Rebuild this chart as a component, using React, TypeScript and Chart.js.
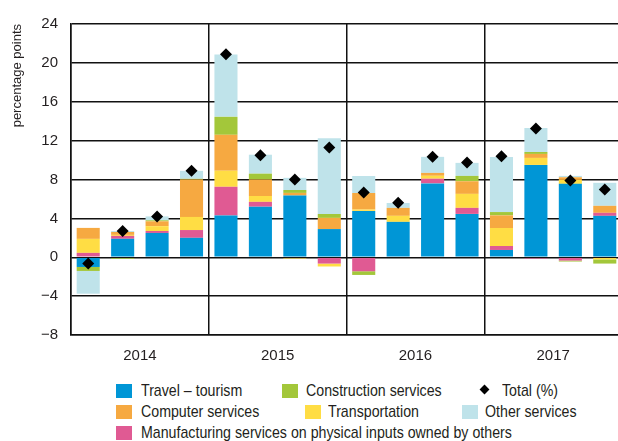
import React, { useEffect, useRef } from "react";
import { Chart, registerables } from "chart.js";

Chart.register(...registerables);

const quarters = [
  "2014Q1", "2014Q2", "2014Q3", "2014Q4",
  "2015Q1", "2015Q2", "2015Q3", "2015Q4",
  "2016Q1", "2016Q2", "2016Q3", "2016Q4",
  "2017Q1", "2017Q2", "2017Q3", "2017Q4",
];
const years = ["2014", "2015", "2016", "2017"];
const yTicks = [-8, -4, 0, 4, 8, 12, 16, 20, 24];

const travel = [-1.0, 1.9, 2.5, 2.0, 4.3, 5.2, 6.35, 2.9, 4.77, 3.64, 7.6, 4.46, 0.75, 9.5, 7.55, 4.26];
const manufacturing = [0.45, 0.3, 0.2, 0.8, 2.95, 0.5, 0, -0.65, -1.44, 0, 0.48, 0.62, 0.41, -0.13, -0.34, 0.31];
const transportation = [1.44, 0.1, 0.5, 1.35, 1.65, 0.6, -0.13, -0.3, 0.14, 0.62, 0.3, 1.44, 1.85, 0.72, 0.41, -0.22];
const computer = [1.13, 0.3, 0.5, 3.85, 3.7, 1.7, 0.27, 1.15, 1.7, 0.82, 0.3, 1.3, 1.3, 0.41, 0.27, 0.72];
const construction = [-0.41, -0.15, 0.1, 0.07, 1.85, 0.6, 0.3, 0.4, -0.38, 0, 0, 0.55, 0.34, 0.2, -0.1, -0.43];
const other = [-2.34, 0.1, 0.4, 0.82, 6.4, 1.95, 1.25, 7.8, 1.75, 0.5, 1.65, 1.34, 5.66, 2.47, 0.14, 2.37];
const total = [-0.65, 2.7, 4.2, 8.9, 20.9, 10.5, 8.0, 11.3, 6.66, 5.6, 10.33, 9.75, 10.4, 13.25, 7.9, 6.97];

const C_TRAVEL = "#0096d6";
const C_MANUF = "#e05a93";
const C_TRANSP = "#ffdd44";
const C_COMP = "#f6a941";
const C_CONSTR = "#a3c73a";
const C_OTHER = "#bfe3ea";
const TEXT = "#231f20";
const LINE = "#111111";
const FONT = "'Liberation Sans', Arial, sans-serif";

function fmt(v: number) {
  return v < 0 ? "\u2212" + Math.abs(v) : String(v);
}

const Swatch = ({ left, top, color }: { left: number; top: number; color: string }) => (
  <div style={{ position: "absolute", left, top, width: 16, height: 14, background: color }} />
);
const Label = ({ left, top, text }: { left: number; top: number; text: string }) => (
  <div
    style={{
      position: "absolute",
      left,
      top,
      font: `17px ${FONT}`,
      lineHeight: "20px",
      color: TEXT,
      whiteSpace: "nowrap",
      transform: "scaleX(0.835)",
      transformOrigin: "left center",
    }}
  >
    {text}
  </div>
);

export default function App() {
  const ref = useRef<HTMLCanvasElement | null>(null);

  useEffect(() => {
    if (!ref.current) return;
    const mk = (label: string, data: number[], color: string) => ({
      type: "bar" as const,
      label,
      data,
      backgroundColor: color,
      borderWidth: 0,
      stack: "s",
      order: 1,
      barPercentage: 0.67,
      categoryPercentage: 1,
    });
    const chart = new Chart(ref.current, {
      type: "bar",
      data: {
        labels: quarters,
        datasets: [
          mk("Travel \u2013 tourism", travel, C_TRAVEL),
          mk("Manufacturing services on physical inputs owned by others", manufacturing, C_MANUF),
          mk("Transportation", transportation, C_TRANSP),
          mk("Computer services", computer, C_COMP),
          mk("Construction services", construction, C_CONSTR),
          mk("Other services", other, C_OTHER),
          {
            type: "line" as const,
            label: "Total (%)",
            data: total,
            showLine: false,
            stack: "total",
            order: 0,
            pointStyle: "rectRot",
            pointRadius: 6,
            pointBackgroundColor: "#000",
            pointBorderColor: "#000",
            pointBorderWidth: 0,
          } as any,
        ],
      },
      options: {
        animation: false,
        responsive: false,
        maintainAspectRatio: false,
        layout: { padding: { top: 24, right: 18, left: 0, bottom: 0 } },
        plugins: { legend: { display: false }, tooltip: { enabled: false } },
        scales: {
          x: {
            type: "category",
            stacked: true,
            offset: true,
            weight: 0,
            grid: {
              offset: true,
              drawTicks: false,
              lineWidth: 1.5,
              color: (ctx: any) => (ctx.index % 4 === 0 ? LINE : "rgba(0,0,0,0)"),
            },
            border: { display: true, color: LINE, width: 1.5 },
            ticks: { display: false },
            afterFit: (s: any) => {
              s.height = 0;
            },
          },
          x2: {
            type: "category",
            labels: years,
            position: "bottom",
            offset: true,
            weight: 1,
            grid: { display: false, drawTicks: false },
            border: { display: false },
            ticks: { color: TEXT, font: { family: FONT, size: 15 }, padding: 12 },
            afterFit: (s: any) => {
              s.height = 35;
            },
          },
          y: {
            stacked: true,
            min: -8,
            max: 24,
            afterBuildTicks: (s: any) => {
              s.ticks = yTicks.map((v) => ({ value: v }));
            },
            grid: { drawTicks: false, lineWidth: 1.5, color: LINE },
            border: { display: true, color: LINE, width: 1.5 },
            ticks: {
              color: TEXT,
              font: { family: FONT, size: 15 },
              padding: 13,
              callback: (v: any) => fmt(Number(v)),
            },
            title: {
              display: true,
              text: "percentage points",
              align: "end",
              color: TEXT,
              font: { family: FONT, size: 13 },
              padding: { top: 10, bottom: 0 },
            },
            afterFit: (s: any) => {
              s.width = 71;
            },
          },
        },
      },
    });
    return () => chart.destroy();
  }, []);

  return (
    <div
      style={{
        position: "fixed",
        left: 0,
        top: 0,
        width: 618,
        height: 441,
        overflow: "hidden",
        background: "#fff",
      }}
    >
      <canvas ref={ref} width={640} height={370} style={{ position: "absolute", left: 0, top: 0, width: 640, height: 370 }} />
      <Swatch left={116} top={384} color={C_TRAVEL} />
      <Label left={141} top={381} text={"Travel \u2013 tourism"} />
      <Swatch left={282} top={384} color={C_CONSTR} />
      <Label left={306} top={381} text="Construction services" />
      <div
        style={{
          position: "absolute",
          left: 481,
          top: 386,
          width: 7,
          height: 7,
          background: "#000",
          transform: "rotate(45deg)",
        }}
      />
      <Label left={502} top={381} text="Total (%)" />

      <Swatch left={116} top={405} color={C_COMP} />
      <Label left={141} top={402} text="Computer services" />
      <Swatch left={305} top={405} color={C_TRANSP} />
      <Label left={328} top={402} text="Transportation" />
      <Swatch left={462} top={405} color={C_OTHER} />
      <Label left={485} top={402} text="Other services" />

      <Swatch left={116} top={426} color={C_MANUF} />
      <Label left={141} top={423} text="Manufacturing services on physical inputs owned by others" />
    </div>
  );
}
